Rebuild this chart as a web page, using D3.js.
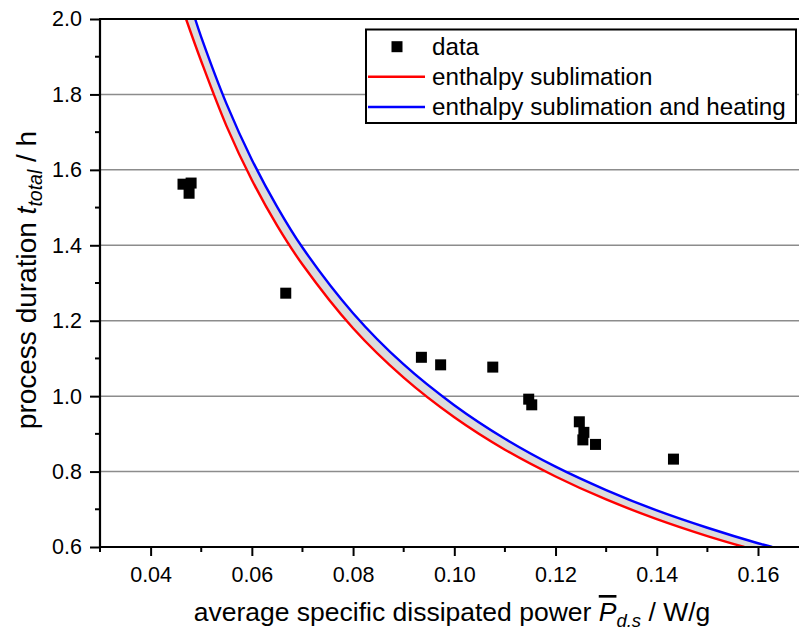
<!DOCTYPE html>
<html><head><meta charset="utf-8">
<script src="https://cdn.jsdelivr.net/npm/d3@7"></script>
<style>
body{margin:0;background:#fff}
text{font-family:"Liberation Sans", Arial, Helvetica, sans-serif;fill:#000}
</style>
</head><body>
<svg id="c" width="799" height="631"></svg>
<script>
// measured data points
const dataX = [0.0464, 0.0480, 0.0476, 0.0667, 0.0935, 0.0973, 0.1076, 0.1147, 0.1153, 0.1247, 0.1256, 0.1254, 0.1279, 0.1433];
const dataY = [1.562, 1.565, 1.538, 1.273, 1.103, 1.083, 1.077, 0.992, 0.977, 0.932, 0.904, 0.884, 0.872, 0.833];
// curve read-offs
const redX  = [0.0470, 0.050, 0.055, 0.060, 0.065, 0.070, 0.080, 0.090, 0.100, 0.110, 0.120, 0.130, 0.140, 0.150, 0.1573];
const redY  = [2.000, 1.888, 1.716, 1.573, 1.452, 1.349, 1.180, 1.049, 0.944, 0.858, 0.787, 0.726, 0.674, 0.629, 0.600];
const blueX = [0.0488, 0.050, 0.055, 0.060, 0.065, 0.070, 0.080, 0.090, 0.100, 0.110, 0.120, 0.130, 0.140, 0.150, 0.160, 0.1628];
const blueY = [2.000, 1.952, 1.775, 1.627, 1.502, 1.394, 1.220, 1.084, 0.976, 0.887, 0.813, 0.751, 0.697, 0.651, 0.610, 0.600];
const xTicks = [0.04, 0.06, 0.08, 0.10, 0.12, 0.14, 0.16];
const yTicks = [0.6, 0.8, 1.0, 1.2, 1.4, 1.6, 1.8, 2.0];
const legendLabels = ["data", "enthalpy sublimation", "enthalpy sublimation and heating"];

const svg = d3.select("#c");
const L = 100, T = 19, B = 547;
const x = d3.scaleLinear().domain([0.03, 0.17]).range([L, L + 0.14 * 5061.5]);
const y = d3.scaleLinear().domain([0.6, 2.0]).range([B, T]);

svg.append("defs").append("clipPath").attr("id", "clip")
  .append("rect").attr("x", L).attr("y", T).attr("width", 799 - L).attr("height", B - T);

// gridlines
svg.append("g").selectAll("line").data(yTicks.filter(d => d > 0.6 && d < 2.0)).join("line")
  .attr("x1", L).attr("x2", 799).attr("y1", d => y(d)).attr("y2", d => y(d))
  .attr("stroke", "#8c8c8c").attr("stroke-width", 1.5);

// band between curves
const redPts = redX.map((v, i) => [x(v), y(redY[i])]);
const bluePts = blueX.map((v, i) => [x(v), y(blueY[i])]).reverse();
const line = d3.line().curve(d3.curveCatmullRom.alpha(0.5));
const bandPath = line(redPts) + line(bluePts).replace(/^M/, "L") + "Z";
const plot = svg.append("g").attr("clip-path", "url(#clip)");
plot.append("path").attr("d", bandPath).attr("fill", "#dcdcdc").attr("stroke", "none");
plot.append("path").attr("d", line(redPts)).attr("fill", "none").attr("stroke", "#ff0000").attr("stroke-width", 2.4);
plot.append("path").attr("d", line(bluePts)).attr("fill", "none").attr("stroke", "#0000ff").attr("stroke-width", 2.4);

// data squares
const s = 11;
plot.append("g").selectAll("rect").data(dataX).join("rect")
  .attr("x", (d) => x(d) - s / 2).attr("y", (d, i) => y(dataY[i]) - s / 2)
  .attr("width", s).attr("height", s).attr("fill", "#000");

// axes
const xAxis = d3.axisBottom(x).tickValues(xTicks).tickFormat(d3.format(".2f")).tickSize(9).tickPadding(11);
const gx = svg.append("g").attr("transform", `translate(0,${B})`).call(xAxis);
const xMinor = d3.range(0.03, 0.171, 0.01).filter(v => !xTicks.some(t => Math.abs(t - v) < 1e-6));
gx.selectAll(".minor").data(xMinor).join("line").attr("class", "minor")
  .attr("x1", d => x(d)).attr("x2", d => x(d)).attr("y1", 0).attr("y2", 5)
  .attr("stroke", "#000").attr("stroke-width", 2);
const yAxis = d3.axisLeft(y).tickValues(yTicks).tickFormat(d3.format(".1f")).tickSize(10).tickPadding(8);
const gy = svg.append("g").attr("transform", `translate(${L},0)`).call(yAxis);
const yMinor = [0.7, 0.9, 1.1, 1.3, 1.5, 1.7, 1.9];
gy.selectAll(".minor").data(yMinor).join("line").attr("class", "minor")
  .attr("x1", -5).attr("x2", 0).attr("y1", d => y(d)).attr("y2", d => y(d))
  .attr("stroke", "#000").attr("stroke-width", 2);
[gx, gy].forEach(g => {
  g.select(".domain").attr("stroke", "#000").attr("stroke-width", 2.2).attr("d",
    g === gx ? `M${L},0H799` : `M0,${B}V${T}`);
  g.selectAll(".tick line").attr("stroke", "#000").attr("stroke-width", 2);
  g.selectAll(".tick text").attr("font-size", 21.5).attr("font-family", '"Liberation Sans", Arial, sans-serif');
});
// top border
svg.append("line").attr("x1", L - 1).attr("x2", 799).attr("y1", T).attr("y2", T)
  .attr("stroke", "#000").attr("stroke-width", 2.2);

// axis titles
const xt = svg.append("text").attr("x", 452).attr("y", 621).attr("text-anchor", "middle").attr("font-size", 26.5);
xt.append("tspan").text("average specific dissipated power ");
xt.append("tspan").attr("font-style", "italic").style("text-decoration", "overline").text("P");
xt.append("tspan").attr("font-style", "italic").attr("font-size", 18.5).attr("dy", 6).text("d.s");
xt.append("tspan").attr("dy", -6).text(" / W/g");

const yt = svg.append("text").attr("transform", "translate(36,280) rotate(-90)").attr("text-anchor", "middle").attr("font-size", 28);
yt.append("tspan").text("process duration ");
yt.append("tspan").attr("font-style", "italic").text("t");
yt.append("tspan").attr("font-style", "italic").attr("font-size", 19.5).attr("dy", 6).text("total");
yt.append("tspan").attr("dy", -6).text(" / h");

// legend
const lg = svg.append("g");
lg.append("rect").attr("x", 366).attr("y", 29.5).attr("width", 430).attr("height", 93.5)
  .attr("fill", "#fff").attr("stroke", "#000").attr("stroke-width", 2);
const rows = [46.7, 76.7, 107];
lg.append("rect").attr("x", 397 - 5.5).attr("y", rows[0] - 5.5).attr("width", 11).attr("height", 11).attr("fill", "#000");
lg.append("line").attr("x1", 368).attr("x2", 425).attr("y1", rows[1]).attr("y2", rows[1]).attr("stroke", "#ff0000").attr("stroke-width", 2.4);
lg.append("line").attr("x1", 368).attr("x2", 425).attr("y1", rows[2]).attr("y2", rows[2]).attr("stroke", "#0000ff").attr("stroke-width", 2.4);
lg.selectAll("text.lab").data(legendLabels).join("text").attr("class", "lab")
  .attr("x", 432).attr("y", (d, i) => rows[i] + 7.8).attr("font-size", 24.2).text(d => d);
</script>
</body></html>
